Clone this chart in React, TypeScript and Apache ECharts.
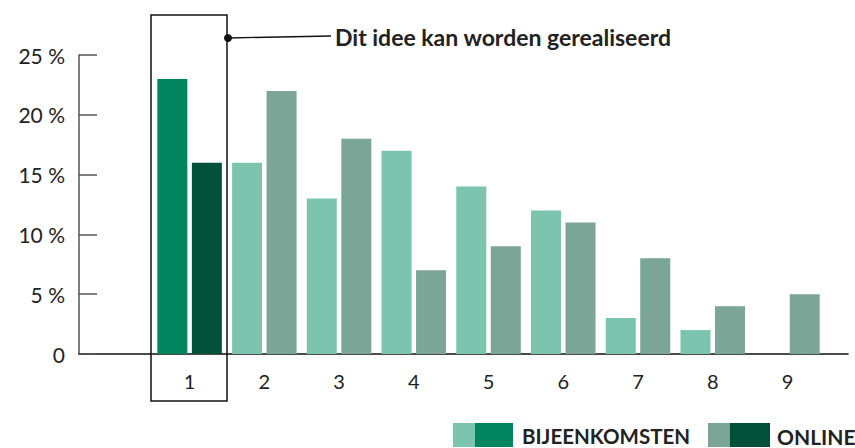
import React, { useEffect, useRef } from "react";
import * as echarts from "echarts";

const categories = ["1", "2", "3", "4", "5", "6", "7", "8", "9"];
const bijeenkomsten = [23, 16, 13, 17, 14, 12, 3, 2, 0];
const online = [16, 22, 18, 7, 9, 11, 8, 4, 5];
const yTicks = [0, 5, 10, 15, 20, 25];
const highlightIndex = 0;
const seriesNames = ["BIJEENKOMSTEN", "ONLINE"];
const annotationText = "Dit idee kan worden gerealiseerd";

const COL = {
  bijLight: "#7cc4ae",
  bijDark: "#00855f",
  onLight: "#7ba596",
  onDark: "#00503a",
  text: "#222222",
};

const FONT = "Lato, 'Noto Sans', sans-serif";

export default function App() {
  const ref = useRef<HTMLDivElement>(null);
  useEffect(() => {
    if (!ref.current) return;
    const chart = echarts.init(ref.current, null, { renderer: "svg" });
    const mk = (vals: number[], light: string, dark: string) =>
      vals.map((v, i) => ({
        value: [i + 1, v],
        itemStyle: { color: i === highlightIndex ? dark : light },
      }));
    chart.setOption({
      animation: false,
      textStyle: { fontFamily: FONT },
      grid: { left: 79, right: 7, top: 55, bottom: 94 },
      xAxis: {
        type: "value",
        min: -0.48,
        max: 9.81,
        splitLine: { show: false },
        axisLine: { show: true, onZero: false, lineStyle: { color: "#111", width: 1.6 } },
        axisTick: { show: false },
        axisLabel: {
          customValues: categories.map((_, i) => i + 1),
          formatter: (v: number) => categories[Math.round(v) - 1] ?? "",
          color: COL.text,
          fontSize: 20,
          fontFamily: FONT,
          margin: 17,
        },
      },
      yAxis: {
        type: "value",
        min: 0,
        max: 25,
        interval: 5,
        splitLine: { show: false },
        axisLine: { show: true, onZero: false, lineStyle: { color: "#555", width: 1.5 } },
        axisTick: { show: true, inside: true, length: 18, lineStyle: { color: "#555", width: 1.5 } },
        axisLabel: {
          customValues: yTicks,
          formatter: (v: number) => (v === 0 ? "0" : `${v} %`),
          color: COL.text,
          fontSize: 21,
          fontFamily: FONT,
          margin: 14,
        },
      },
      series: [
        {
          name: seriesNames[0],
          type: "bar",
          barWidth: 30,
          barGap: "15%",
          data: mk(bijeenkomsten, COL.bijLight, COL.bijDark),
        },
        {
          name: seriesNames[1],
          type: "bar",
          barWidth: 30,
          barGap: "15%",
          data: mk(online, COL.onLight, COL.onDark),
        },
      ],
      graphic: [
        {
          type: "rect",
          shape: { x: 151, y: 15, width: 76, height: 386 },
          style: { fill: "none", stroke: "#111", lineWidth: 1.5 },
          z: 10,
        },
        {
          type: "line",
          shape: { x1: 228, y1: 38, x2: 331, y2: 36 },
          style: { stroke: "#111", lineWidth: 1.3 },
          z: 10,
        },
        {
          type: "circle",
          shape: { cx: 228, cy: 38, r: 4 },
          style: { fill: "#111" },
          z: 11,
        },
        {
          type: "text",
          x: 335,
          y: 37,
          style: {
            text: annotationText,
            fill: COL.text,
            font: `bold 23px ${FONT}`,
            verticalAlign: "middle",
          },
          z: 10,
        },
        { type: "rect", shape: { x: 453, y: 423, width: 22, height: 24 }, style: { fill: COL.bijLight } },
        { type: "rect", shape: { x: 475, y: 423, width: 38, height: 24 }, style: { fill: COL.bijDark } },
        {
          type: "text",
          x: 522,
          y: 436,
          style: { text: seriesNames[0], fill: COL.text, font: `bold 20.5px ${FONT}`, verticalAlign: "middle" },
        },
        { type: "rect", shape: { x: 708, y: 423, width: 22, height: 24 }, style: { fill: COL.onLight } },
        { type: "rect", shape: { x: 730, y: 423, width: 40, height: 24 }, style: { fill: COL.onDark } },
        {
          type: "text",
          x: 777,
          y: 436,
          style: { text: seriesNames[1], fill: COL.text, font: `bold 21px ${FONT}`, verticalAlign: "middle" },
        },
      ],
    });
    return () => chart.dispose();
  }, []);
  return <div ref={ref} style={{ width: 855, height: 448, position: "absolute", left: 0, top: 0 }} />;
}
